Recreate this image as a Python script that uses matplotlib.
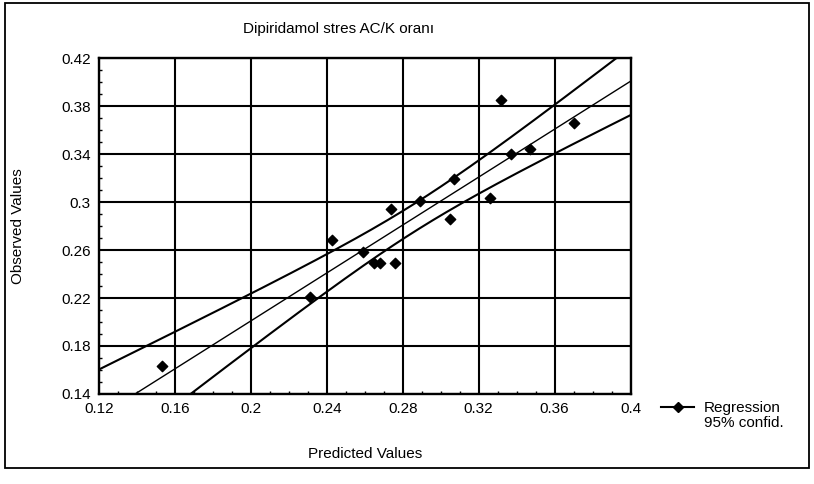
import matplotlib.pyplot as plt
import numpy as np
from matplotlib.lines import Line2D
from matplotlib.patches import Rectangle

plt.rcParams['font.family'] = ['Liberation Sans', 'DejaVu Sans']

# predicted vs observed
predicted = [0.153, 0.231, 0.243, 0.259, 0.265, 0.268, 0.276, 0.274,
             0.289, 0.305, 0.307, 0.326, 0.332, 0.337, 0.347, 0.370]
observed = [0.163, 0.221, 0.268, 0.258, 0.249, 0.249, 0.249, 0.294,
            0.301, 0.286, 0.319, 0.303, 0.385, 0.340, 0.344, 0.366]
ticks = [0.12, 0.16, 0.2, 0.24, 0.28, 0.32, 0.36, 0.4]
yticks = [0.14, 0.18, 0.22, 0.26, 0.3, 0.34, 0.38, 0.42]
t_crit = 2.145  # t(0.975, df=14)

x = np.array(predicted)
y = np.array(observed)
n = len(x)
slope, icpt = np.polyfit(x, y, 1)
resid = y - (slope * x + icpt)
s = np.sqrt(np.sum(resid ** 2) / (n - 2))
sxx = np.sum((x - x.mean()) ** 2)

xs = np.linspace(0.12, 0.4, 200)
ys = slope * xs + icpt
hw = t_crit * s * np.sqrt(1 / n + (xs - x.mean()) ** 2 / sxx)

fig = plt.figure(figsize=(8.14, 4.84), dpi=100)
ax = fig.add_axes([0.1216, 0.186, 0.653, 0.694])

ax.plot(xs, ys, color='black', lw=1.0)
ax.plot(xs, ys + hw, color='black', lw=1.5)
ax.plot(xs, ys - hw, color='black', lw=1.5)
ax.scatter(x, y, marker='D', s=28, color='black', zorder=3)

ax.set_xlim(0.12, 0.4)
ax.set_ylim(0.14, 0.42)
ax.set_xticks(ticks)
ax.set_xticklabels([f'{v:g}' for v in ticks])
ax.set_yticks(yticks)
ax.set_yticklabels([f'{v:g}' for v in yticks])
ax.set_xticks(np.arange(0.12, 0.401, 0.01), minor=True)
ax.set_yticks(np.arange(0.14, 0.421, 0.01), minor=True)
ax.tick_params(which='major', length=0, labelsize=11, pad=6)
ax.tick_params(which='minor', direction='in', length=2.5, width=1)
ax.grid(True, color='black', lw=1.5)
for sp in ax.spines.values():
    sp.set_linewidth(1.7)

ax.set_xlabel('Predicted Values', fontsize=11, labelpad=22)
ax.set_ylabel('Observed Values', fontsize=11, labelpad=26)
ax.set_title('Dipiridamol stres AC/K oranı', fontsize=11, x=0.45, pad=18)

handles = [Line2D([], [], color='black', marker='D', markersize=5, lw=1.5),
           Line2D([], [], color='none')]
fig.legend(handles, ['Regression', '95% confid.'], loc='upper left',
           bbox_to_anchor=(0.795, 0.2), frameon=False, fontsize=11,
           handlelength=2.2, labelspacing=0.05, handletextpad=0.6)

fig.add_artist(Rectangle((0.006, 0.033), 0.988, 0.96, transform=fig.transFigure,
                         fill=False, color='black', lw=1.3))

fig.savefig('out.png', dpi=100)
